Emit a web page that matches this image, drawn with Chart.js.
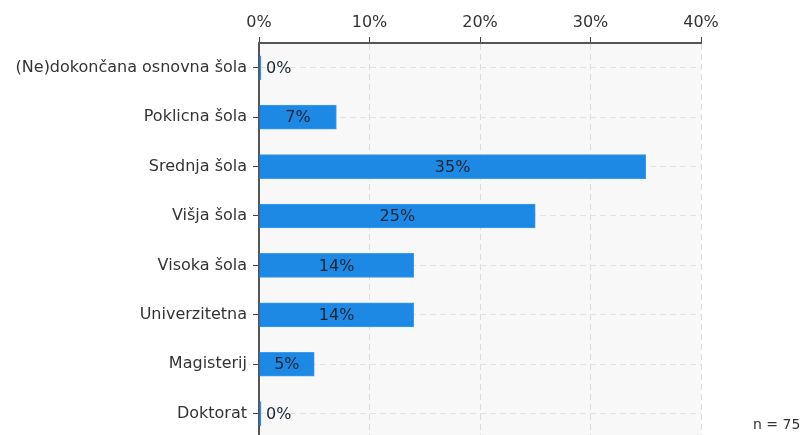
<!DOCTYPE html>
<html>
<head>
<meta charset="utf-8">
<script src="https://cdn.jsdelivr.net/npm/chart.js@4.4.0/dist/chart.umd.min.js"></script>
<style>
  html, body { margin: 0; padding: 0; background: #fff; overflow: hidden; }
  #wrap { width: 807px; height: 454px; }
</style>
</head>
<body>
<div id="wrap"><canvas id="edu-chart" width="807" height="454"></canvas></div>
<script>
const categories = [
  "(Ne)dokončana osnovna šola",
  "Poklicna šola",
  "Srednja šola",
  "Višja šola",
  "Visoka šola",
  "Univerzitetna",
  "Magisterij",
  "Doktorat"
];
const shares = [0, 7, 35, 25, 14, 14, 5, 0];
const tickValues = [0, 10, 20, 30, 40];
const sampleSize = 75;

const FONT = "'DejaVu Sans', Verdana, sans-serif";

// light panel behind the bars
const panelBg = {
  id: "panelBg",
  beforeDraw(chart) {
    const { ctx, chartArea: a } = chart;
    ctx.save();
    ctx.fillStyle = "#f8f8f8";
    ctx.fillRect(a.left, a.top, a.right - a.left, a.bottom - a.top);
    ctx.restore();
  }
};

// percentage labels on bars + sample size note
const barLabels = {
  id: "barLabels",
  afterDatasetsDraw(chart) {
    const { ctx } = chart;
    const meta = chart.getDatasetMeta(0);
    ctx.save();
    ctx.font = "16px " + FONT;
    ctx.fillStyle = "#1a2533";
    ctx.textBaseline = "middle";
    meta.data.forEach((bar, i) => {
      const txt = shares[i] + "%";
      const w = ctx.measureText(txt).width;
      const len = bar.x - bar.base;
      if (len > w + 4) {
        ctx.textAlign = "center";
        ctx.fillText(txt, bar.base + len / 2, bar.y + 1);
      } else {
        ctx.textAlign = "left";
        ctx.fillText(txt, bar.x + 5, bar.y + 1);
      }
    });
    ctx.font = "14px " + FONT;
    ctx.fillStyle = "#333";
    ctx.textAlign = "left";
    ctx.fillText("n = " + sampleSize, 753, 425);
    ctx.restore();
  }
};

const ctx = document.getElementById("edu-chart").getContext("2d");
new Chart(ctx, {
  type: "bar",
  data: {
    labels: categories,
    datasets: [{
      data: shares,
      backgroundColor: "#1e88e5",
      borderColor: "#3a9bf0",
      borderWidth: 1,
      borderSkipped: "left",
      barThickness: 24,
      minBarLength: 2
    }]
  },
  options: {
    indexAxis: "y",
    responsive: false,
    animation: false,
    layout: { padding: { top: 0, left: 0, right: 106, bottom: 5 } },
    plugins: {
      legend: { display: false },
      tooltip: { enabled: false }
    },
    scales: {
      x: {
        position: "top",
        min: 0,
        max: 40,
        afterBuildTicks(scale) {
          scale.ticks = tickValues.map(v => ({ value: v }));
        },
        afterFit(scale) { scale.height = 43; },
        ticks: {
          callback: v => v + "%",
          color: "#333",
          padding: 5,
          font: { family: FONT, size: 16 }
        },
        grid: {
          color: "#dcdcdc",
          lineWidth: 1,
          tickLength: 6,
          tickColor: "#444",
          tickWidth: 1
        },
        border: { color: "#555", width: 2, dash: [6, 4] }
      },
      y: {
        afterFit(scale) { scale.width = 259; },
        ticks: {
          color: "#333",
          padding: 6,
          font: { family: FONT, size: 16 }
        },
        grid: {
          offset: false,
          color: "#e2e2e2",
          lineWidth: 1,
          tickLength: 6,
          tickColor: "#444",
          tickWidth: 1
        },
        border: { color: "#555", width: 2, dash: [6, 4] }
      }
    }
  },
  plugins: [panelBg, barLabels]
});
</script>
</body>
</html>
